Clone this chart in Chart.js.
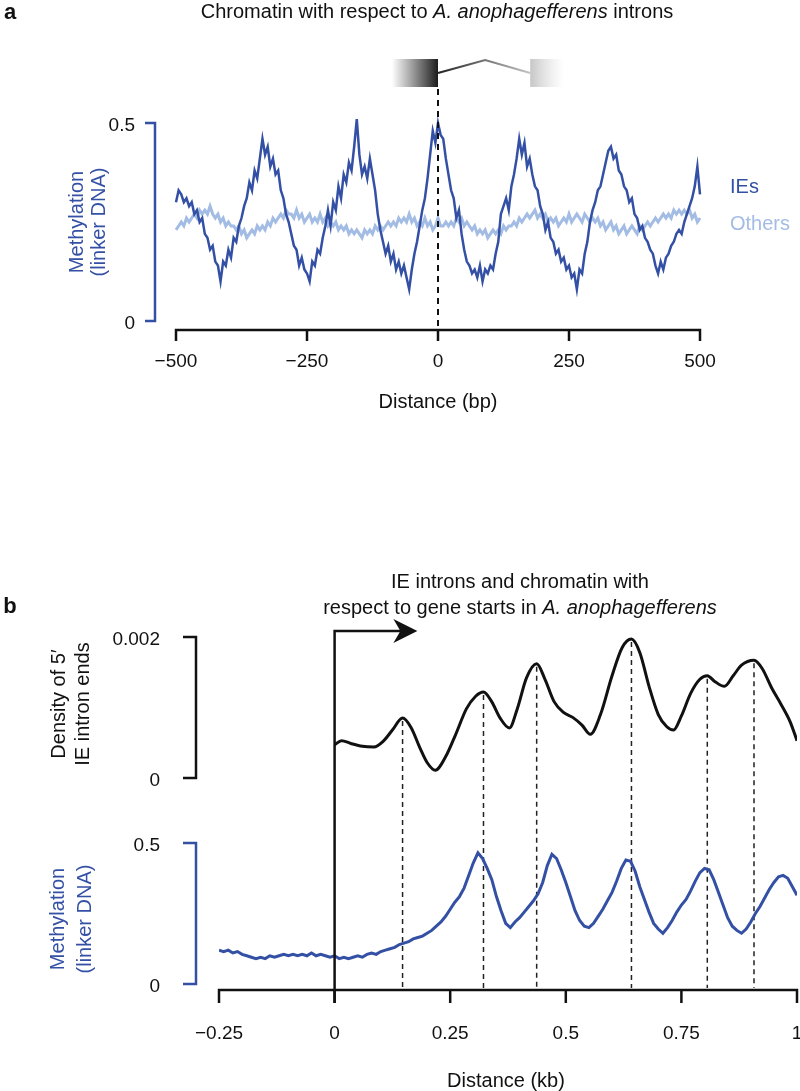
<!DOCTYPE html>
<html>
<head>
<meta charset="utf-8">
<script src="https://cdn.jsdelivr.net/npm/chart.js@4.4.1/dist/chart.umd.min.js"></script>
<style>
  html, body { margin: 0; padding: 0; background: #fff; }
  body { width: 800px; height: 1091px; position: relative; overflow: hidden;
         font-family: "Liberation Sans", Arial, Helvetica, sans-serif; color: #111; }
  canvas { position: absolute; left: 0; top: 0; }
  .t { position: absolute; white-space: nowrap; font-size: 20px; line-height: 1; transform: translate(-50%, -50%); }
  .l { transform: translate(0, -50%); }
  .r { transform: translate(-50%, -50%) rotate(-90deg); }
  .letter { font-weight: bold; font-size: 22px; }
  .blue { color: #3350a5; }
</style>
</head>
<body>
<canvas id="chartA" width="800" height="1091"></canvas>
<canvas id="chartB" width="800" height="1091"></canvas>

<div class="t letter" style="left:10px;top:12px">a</div>
<div class="t" style="left:437px;top:11px">Chromatin with respect to <i>A. anophagefferens</i> introns</div>
<div class="t l blue" style="left:730px;top:186px">IEs</div>
<div class="t l" style="left:730px;top:223px;color:#a3bce4">Others</div>
<div class="t r blue" style="left:76px;top:222px">Methylation</div>
<div class="t r blue" style="left:98px;top:222px">(linker DNA)</div>
<div class="t" style="left:438px;top:401px">Distance (bp)</div>

<div class="t letter" style="left:10px;top:606px">b</div>
<div class="t" style="left:520px;top:581px">IE introns and chromatin with</div>
<div class="t" style="left:520px;top:607px">respect to gene starts in <i>A. anophagefferens</i></div>
<div class="t r" style="left:58px;top:704px">Density of 5′</div>
<div class="t r" style="left:82px;top:704px">IE intron ends</div>
<div class="t r blue" style="left:57px;top:919px">Methylation</div>
<div class="t r blue" style="left:84px;top:919px">(linker DNA)</div>
<div class="t" style="left:506px;top:1080px">Distance (kb)</div>

<script>
// ---------- panel a: methylation around intron 5' ends (bp, every 5 bp) ----------
const aDistanceStart = -500;
const aDistanceStep = 5;
const aIEs = [
  0.30, 0.33, 0.32, 0.30, 0.31, 0.29, 0.30, 0.27, 0.28, 0.25,
  0.26, 0.22, 0.21, 0.18, 0.19, 0.15, 0.14, 0.10, 0.15, 0.14,
  0.18, 0.16, 0.21, 0.20, 0.24, 0.26, 0.29, 0.31, 0.35, 0.33,
  0.38, 0.36, 0.41, 0.46, 0.42, 0.44, 0.39, 0.41, 0.37, 0.38,
  0.33, 0.31, 0.27, 0.25, 0.22, 0.19, 0.18, 0.14, 0.16, 0.13,
  0.12, 0.10, 0.15, 0.14, 0.18, 0.17, 0.21, 0.24, 0.28, 0.24,
  0.30, 0.28, 0.34, 0.31, 0.37, 0.35, 0.40, 0.38, 0.44, 0.51,
  0.42, 0.37, 0.39, 0.36, 0.41, 0.37, 0.33, 0.27, 0.23, 0.20,
  0.17, 0.19, 0.15, 0.17, 0.13, 0.15, 0.12, 0.14, 0.11, 0.08,
  0.13, 0.17, 0.20, 0.24, 0.28, 0.31, 0.36, 0.42, 0.48, 0.45,
  0.50, 0.47, 0.46, 0.41, 0.37, 0.33, 0.31, 0.26, 0.28, 0.22,
  0.18, 0.15, 0.14, 0.12, 0.13, 0.11, 0.14, 0.10, 0.13, 0.12,
  0.14, 0.13, 0.17, 0.20, 0.27, 0.29, 0.31, 0.28, 0.34, 0.37,
  0.41, 0.46, 0.42, 0.45, 0.39, 0.41, 0.37, 0.34, 0.33, 0.29,
  0.27, 0.23, 0.25, 0.21, 0.20, 0.17, 0.18, 0.15, 0.16, 0.13,
  0.14, 0.11, 0.12, 0.08, 0.13, 0.12, 0.17, 0.20, 0.25, 0.28,
  0.30, 0.33, 0.34, 0.37, 0.40, 0.43, 0.44, 0.41, 0.42, 0.38,
  0.37, 0.34, 0.33, 0.30, 0.31, 0.27, 0.26, 0.23, 0.24, 0.21,
  0.20, 0.18, 0.17, 0.14, 0.12, 0.15, 0.13, 0.16, 0.17, 0.19,
  0.20, 0.22, 0.23, 0.22, 0.25, 0.27, 0.29, 0.31, 0.34, 0.39,
  0.32
];
const aOthers = [
  0.23, 0.24, 0.25, 0.24, 0.26, 0.25, 0.26, 0.27, 0.26, 0.28,
  0.27, 0.28, 0.27, 0.29, 0.27, 0.26, 0.27, 0.25, 0.26, 0.24,
  0.25, 0.24, 0.24, 0.23, 0.24, 0.22, 0.23, 0.21, 0.22, 0.23,
  0.22, 0.24, 0.23, 0.24, 0.23, 0.25, 0.24, 0.26, 0.25, 0.26,
  0.27, 0.26, 0.28, 0.27, 0.27, 0.26, 0.28, 0.26, 0.27, 0.25,
  0.26, 0.27, 0.25, 0.26, 0.25, 0.27, 0.25, 0.26, 0.24, 0.25,
  0.24, 0.25, 0.23, 0.24, 0.23, 0.24, 0.22, 0.23, 0.22, 0.23,
  0.22, 0.21, 0.23, 0.22, 0.23, 0.22, 0.24, 0.23, 0.24, 0.23,
  0.24, 0.25, 0.24, 0.25, 0.24, 0.26, 0.25, 0.26, 0.25, 0.27,
  0.25, 0.26, 0.24, 0.25, 0.24, 0.26, 0.24, 0.25, 0.23, 0.24,
  0.26, 0.24, 0.24, 0.25, 0.24, 0.25, 0.24, 0.26, 0.25, 0.26,
  0.24, 0.25, 0.24, 0.23, 0.24, 0.22, 0.23, 0.22, 0.23, 0.21,
  0.22, 0.23, 0.22, 0.23, 0.22, 0.24, 0.23, 0.24, 0.24, 0.25,
  0.24, 0.26, 0.25, 0.26, 0.27, 0.26, 0.27, 0.28, 0.26, 0.27,
  0.26, 0.27, 0.25, 0.26, 0.25, 0.26, 0.24, 0.25, 0.26, 0.25,
  0.27, 0.25, 0.26, 0.27, 0.26, 0.25, 0.27, 0.26, 0.25, 0.26,
  0.25, 0.26, 0.24, 0.25, 0.23, 0.24, 0.25, 0.23, 0.24, 0.22,
  0.23, 0.24, 0.22, 0.23, 0.24, 0.23, 0.22, 0.24, 0.23, 0.24,
  0.25, 0.24, 0.25, 0.26, 0.25, 0.26, 0.27, 0.26, 0.27, 0.26,
  0.28, 0.27, 0.28, 0.27, 0.28, 0.27, 0.28, 0.26, 0.27, 0.25,
  0.26
];
const aDistance = aIEs.map((_, i) => aDistanceStart + i * aDistanceStep);
const aXTicks = [-500, -250, 0, 250, 500];
const aYTicks = [0, 0.5];

// ---------- panel b: density of 5' IE intron ends and methylation vs gene start (kb) ----------
const bDensityX = [
  0.000, 0.015, 0.035, 0.060, 0.085, 0.105, 0.125, 0.147, 0.165, 0.185,
  0.200, 0.218, 0.240, 0.262, 0.285, 0.305, 0.322, 0.340, 0.358, 0.378,
  0.395, 0.415, 0.437, 0.455, 0.475, 0.495, 0.515, 0.535, 0.553, 0.575,
  0.600, 0.622, 0.642, 0.660, 0.680, 0.700, 0.718, 0.733, 0.750, 0.770,
  0.790, 0.806, 0.822, 0.843, 0.862, 0.880, 0.907, 0.925, 0.945, 0.965,
  0.985, 1.000
];
const bDensityY = [
  0.00047, 0.00053, 0.00049, 0.00045, 0.00044, 0.00052, 0.00068, 0.00085, 0.00072, 0.00042,
  0.00022, 0.00011, 0.00030, 0.00062, 0.00098, 0.00116, 0.00122, 0.00108, 0.00085, 0.00071,
  0.00098, 0.00142, 0.00162, 0.00140, 0.00108, 0.00093, 0.00086, 0.00075, 0.00062, 0.00090,
  0.00145, 0.00185, 0.00197, 0.00178, 0.00130, 0.00090, 0.00073, 0.00068, 0.00088, 0.00120,
  0.00140, 0.00145, 0.00137, 0.00130, 0.00145, 0.00160, 0.00167, 0.00155, 0.00128, 0.00105,
  0.00080, 0.00053
];
const bPeaks = [0.147, 0.322, 0.437, 0.642, 0.806, 0.907];

const bMethStart = -0.25;
const bMethStep = 0.01;
const bMethylation = [
  0.120, 0.115, 0.120, 0.110, 0.115, 0.105, 0.100, 0.095, 0.090, 0.095,
  0.090, 0.100, 0.095, 0.100, 0.105, 0.100, 0.105, 0.100, 0.105, 0.100,
  0.110, 0.100, 0.105, 0.100, 0.095,
  0.100, 0.090, 0.095, 0.090, 0.095, 0.100, 0.095, 0.105, 0.110, 0.105,
  0.115, 0.120, 0.125, 0.130, 0.140, 0.145, 0.150, 0.160, 0.165, 0.170,
  0.180, 0.190, 0.205, 0.220, 0.240, 0.265, 0.290, 0.310, 0.340, 0.385,
  0.430, 0.465, 0.445, 0.410, 0.370, 0.310, 0.260, 0.215, 0.200, 0.220,
  0.235, 0.255, 0.275, 0.295, 0.320, 0.360, 0.420, 0.460, 0.445, 0.405,
  0.360, 0.310, 0.260, 0.225, 0.205, 0.200, 0.215, 0.240, 0.265, 0.295,
  0.325, 0.365, 0.410, 0.440, 0.435, 0.400, 0.345, 0.300, 0.255, 0.215,
  0.195, 0.180, 0.200, 0.225, 0.255, 0.280, 0.300, 0.330, 0.365, 0.395,
  0.410, 0.405, 0.370, 0.325, 0.280, 0.235, 0.205, 0.190, 0.180, 0.195,
  0.220, 0.250, 0.275, 0.305, 0.335, 0.360, 0.380, 0.385, 0.375, 0.345,
  0.315
];
const bDistance = bMethylation.map((_, i) => +(bMethStart + i * bMethStep).toFixed(2));
const bXTicks = [-0.25, 0, 0.25, 0.5, 0.75, 1];
const bDensityTicks = [0, 0.002];
const bMethTicks = [0, 0.5];

// ---------- colours ----------
const darkBlue = '#3350a5';
const lightBlue = '#a3bce4';
const ink = '#111';

const tickFont = '19px "Liberation Sans", Arial, sans-serif';
const fmt = v => (v < 0 ? '\u2212' + Math.abs(v) : String(v));

function drawXAxis(ctx, scale, ticks, yLine, tickLen, labelY) {
  ctx.strokeStyle = ink;
  ctx.lineWidth = 2.5;
  ctx.lineCap = 'butt';
  ctx.beginPath();
  ctx.moveTo(scale.getPixelForValue(ticks[0]) - 1.25, yLine);
  ctx.lineTo(scale.getPixelForValue(ticks[ticks.length - 1]) + 1.25, yLine);
  for (const t of ticks) {
    const px = scale.getPixelForValue(t);
    ctx.moveTo(px, yLine);
    ctx.lineTo(px, yLine + tickLen);
  }
  ctx.stroke();
  ctx.fillStyle = ink;
  ctx.font = tickFont;
  ctx.textAlign = 'center';
  ctx.textBaseline = 'alphabetic';
  for (const t of ticks) ctx.fillText(fmt(t), scale.getPixelForValue(t), labelY);
}

function drawBracket(ctx, scale, ticks, x, tickLen, color, labelRight) {
  const yLow = scale.getPixelForValue(ticks[0]);
  const yHigh = scale.getPixelForValue(ticks[ticks.length - 1]);
  ctx.strokeStyle = color;
  ctx.lineWidth = 2.5;
  ctx.lineJoin = 'miter';
  ctx.beginPath();
  ctx.moveTo(x - tickLen, yHigh);
  ctx.lineTo(x, yHigh);
  ctx.lineTo(x, yLow);
  ctx.lineTo(x - tickLen, yLow);
  ctx.stroke();
  ctx.fillStyle = ink;
  ctx.font = tickFont;
  ctx.textAlign = 'right';
  ctx.textBaseline = 'alphabetic';
  for (const t of ticks) ctx.fillText(fmt(t), labelRight, scale.getPixelForValue(t) + 8);
}

// panel a decorations: axes, intron cartoon, dashed line at 0
const panelAAxes = {
  id: 'panelAAxes',
  afterDatasetsDraw(chart) {
    const { ctx, scales: { x, y } } = chart;
    ctx.save();
    drawXAxis(ctx, x, aXTicks, 330, 11, 367);
    drawBracket(ctx, y, aYTicks, 155, 10, darkBlue, 135);

    const x0 = x.getPixelForValue(0);
    ctx.strokeStyle = ink;
    ctx.lineWidth = 2;
    ctx.setLineDash([6, 5]);
    ctx.beginPath();
    ctx.moveTo(x0, 89);
    ctx.lineTo(x0, 330);
    ctx.stroke();
    ctx.setLineDash([]);

    // exon - intron - exon cartoon
    const exL = x.getPixelForValue(-88);
    let g = ctx.createLinearGradient(exL, 0, x0, 0);
    g.addColorStop(0, 'rgba(40,40,40,0)');
    g.addColorStop(1, '#1c1c1c');
    ctx.fillStyle = g;
    ctx.fillRect(exL, 59, x0 - exL, 28);

    const peakX = x.getPixelForValue(90);
    const ex2L = x.getPixelForValue(176);
    const ex2R = x.getPixelForValue(240);
    g = ctx.createLinearGradient(x0, 0, ex2L, 0);
    g.addColorStop(0, '#222');
    g.addColorStop(1, '#c4c4c4');
    ctx.strokeStyle = g;
    ctx.lineWidth = 2;
    ctx.beginPath();
    ctx.moveTo(x0, 73);
    ctx.lineTo(peakX, 60);
    ctx.lineTo(ex2L, 73);
    ctx.stroke();

    g = ctx.createLinearGradient(ex2L, 0, ex2R, 0);
    g.addColorStop(0, '#c6c6c6');
    g.addColorStop(1, 'rgba(220,220,220,0)');
    ctx.fillStyle = g;
    ctx.fillRect(ex2L, 59, ex2R - ex2L, 28);
    ctx.restore();
  }
};

new Chart(document.getElementById('chartA'), {
  type: 'line',
  data: {
    datasets: [
      {
        label: 'IEs',
        data: aIEs.map((v, i) => ({ x: aDistance[i], y: v })),
        borderColor: darkBlue,
        borderWidth: 2.5,
        pointRadius: 0,
        tension: 0,
        clip: false,
        order: 0,
      },
      {
        label: 'Others',
        data: aOthers.map((v, i) => ({ x: aDistance[i], y: v })),
        borderColor: lightBlue,
        borderWidth: 3,
        pointRadius: 0,
        tension: 0,
        clip: false,
        order: 1,
      },
    ],
  },
  options: {
    responsive: false,
    animation: false,
    devicePixelRatio: 1,
    layout: { padding: { left: 176, right: 100, top: 123, bottom: 1091 - 321 } },
    plugins: { legend: { display: false }, tooltip: { enabled: false } },
    scales: {
      x: { type: 'linear', min: -500, max: 500, display: false },
      y: { type: 'linear', min: 0, max: 0.5, display: false },
    },
  },
  plugins: [panelAAxes],
});

// panel b: two y ranges stacked inside one plot area
const bTop = 631;
const bBottom = 990;
function stackedRange(zeroPx, topPx, topValue) {
  const perPx = topValue / (zeroPx - topPx);
  return { min: -(bBottom - zeroPx) * perPx, max: (zeroPx - bTop) * perPx };
}
const densRange = stackedRange(778, 637, 0.002);
const methRange = stackedRange(984, 843, 0.5);

const panelBAxes = {
  id: 'panelBAxes',
  beforeDatasetsDraw(chart) {
    const { ctx, scales: { x, yDens } } = chart;
    ctx.save();
    ctx.strokeStyle = '#222';
    ctx.lineWidth = 1.5;
    ctx.setLineDash([5, 4]);
    for (const p of bPeaks) {
      const i = bDensityX.indexOf(p);
      const px = x.getPixelForValue(p);
      ctx.beginPath();
      ctx.moveTo(px, yDens.getPixelForValue(bDensityY[i]) + 3);
      ctx.lineTo(px, bBottom - 2);
      ctx.stroke();
    }
    ctx.setLineDash([]);
    ctx.restore();
  },
  afterDatasetsDraw(chart) {
    const { ctx, scales: { x, yDens, yMeth } } = chart;
    ctx.save();
    drawXAxis(ctx, x, bXTicks, bBottom, 13, 1039);
    drawBracket(ctx, yDens, bDensityTicks, 196, 13, ink, 160);
    drawBracket(ctx, yMeth, bMethTicks, 196, 13, darkBlue, 160);

    // gene start arrow
    const x0 = x.getPixelForValue(0);
    const tip = x.getPixelForValue(0.179);
    ctx.strokeStyle = ink;
    ctx.fillStyle = ink;
    ctx.lineWidth = 2.5;
    ctx.beginPath();
    ctx.moveTo(x0, bBottom + 13);
    ctx.lineTo(x0, bTop);
    ctx.lineTo(tip - 10, bTop);
    ctx.stroke();
    ctx.beginPath();
    ctx.moveTo(tip, bTop);
    ctx.lineTo(tip - 24, bTop - 12);
    ctx.lineTo(tip - 17, bTop);
    ctx.lineTo(tip - 24, bTop + 12);
    ctx.closePath();
    ctx.fill();
    ctx.restore();
  }
};

new Chart(document.getElementById('chartB'), {
  type: 'line',
  data: {
    datasets: [
      {
        label: 'Density of 5\u2032 IE intron ends',
        data: bDensityY.map((v, i) => ({ x: bDensityX[i], y: v })),
        yAxisID: 'yDens',
        borderColor: ink,
        borderWidth: 3,
        pointRadius: 0,
        cubicInterpolationMode: 'monotone',
      },
      {
        label: 'Methylation (linker DNA)',
        data: bMethylation.map((v, i) => ({ x: bDistance[i], y: v })),
        yAxisID: 'yMeth',
        borderColor: darkBlue,
        borderWidth: 3,
        pointRadius: 0,
        tension: 0,
      },
    ],
  },
  options: {
    responsive: false,
    animation: false,
    devicePixelRatio: 1,
    layout: { padding: { left: 219, right: 3, top: bTop, bottom: 1091 - bBottom } },
    plugins: { legend: { display: false }, tooltip: { enabled: false } },
    scales: {
      x: { type: 'linear', min: -0.25, max: 1, display: false },
      yDens: { type: 'linear', position: 'left', min: densRange.min, max: densRange.max, display: false },
      yMeth: { type: 'linear', position: 'left', min: methRange.min, max: methRange.max, display: false },
    },
  },
  plugins: [panelBAxes],
});
</script>
</body>
</html>
